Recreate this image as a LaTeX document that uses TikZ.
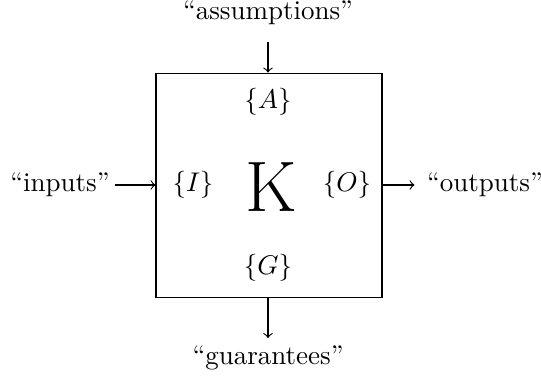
\documentclass[tikz,border=0pt]{standalone}
\begin{document}
\begin{tikzpicture}[x=0.3704pt,y=-0.3704pt,
  lbl/.style={inner sep=0pt},
  arr/.style={->}]
\useasboundingbox (0,0) rectangle (541,376);
\node[draw,minimum width=83.7pt,minimum height=83.3pt,inner sep=0pt] (box) at (269,185.5) {};
\node[lbl] (A) at (268,102) {$\{A\}$};
\node[lbl] (I) at (193,185) {$\{I\}$};
\node[lbl] (O) at (347,185) {$\{O\}$};
\node[lbl] (G) at (268,268) {$\{G\}$};
\node[lbl] (K) at (271,187) {\fontsize{26.5}{30}\selectfont K};
\node[lbl] (assm) at (268,13) {``assumptions''};
\node[lbl] (inp) at (60,185) {``inputs''};
\node[lbl] (outp) at (485,185) {``outputs''};
\node[lbl] (guar) at (268,358) {``guarantees''};
\coordinate (ta) at (268,42);
\coordinate (gb) at (268,338);
\draw[arr] (ta) -- (ta |- box.north);
\draw[arr] (inp.east) ++(5,0) coordinate (ia) -- (ia -| box.west);
\draw[arr] (box.east |- outp) -- ([xshift=-4.5pt]outp.west);
\draw[arr] (gb |- box.south) -- (gb);
\end{tikzpicture}
\end{document}
